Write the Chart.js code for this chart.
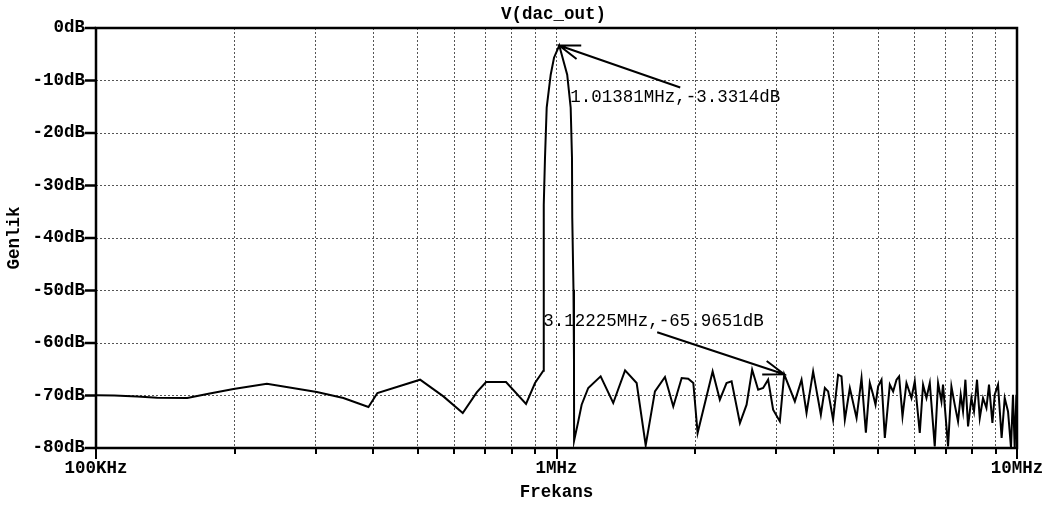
<!DOCTYPE html>
<html>
<head>
<meta charset="utf-8">
<script src="https://cdn.jsdelivr.net/npm/chart.js@4/dist/chart.umd.min.js"></script>
<style>
  html, body { margin: 0; padding: 0; background: #fff; }
  canvas { display: block; }
</style>
</head>
<body>
<canvas id="spectrum" width="1047" height="507"></canvas>
<script>
// Spectrum of V(dac_out): frequency (kHz) and magnitude (dB)
const freqKHz = [
  100, 109.6, 122.9, 135.8, 157.8, 175.5, 198.9, 235.0, 301.7, 344.5, 390.5,
  408.4, 505.6, 568.0, 625.8, 671.1, 703.1, 777.0, 858.7, 898.1, 936.3,
  938.1, 938.5, 944.1, 952.1, 971.4, 987.6, 1013.81,
  1055, 1073.5, 1080.5, 1082, 1088.6, 1091.4, 1092,
  1115, 1134, 1172, 1247, 1328, 1409, 1493, 1562, 1636, 1720, 1793, 1870, 1932, 1982, 2025, 2183,
  2263, 2340, 2400, 2502, 2587, 2660, 2741, 2810, 2881, 2954, 3055, 3122.25,
  3293, 3405, 3491, 3608, 3750, 3826, 3889, 3987, 4088, 4158, 4228, 4335, 4483, 4596,
  4697, 4790, 4870, 4929, 4994, 5079, 5164, 5294, 5383, 5475, 5546, 5641, 5754,
  5900, 5998, 6150, 6252, 6359, 6466, 6628, 6739, 6854, 6908, 7084, 7204, 7324,
  7447, 7547, 7635, 7726, 7829, 7961, 8066, 8188, 8301, 8437, 8582, 8694,
  8843, 8946, 9095, 9260, 9404, 9561, 9704, 9801, 9885, 9970, 10000
];
const levelDb = [
  -69.94, -69.98, -70.17, -70.42, -70.48, -69.66, -68.76, -67.75, -69.33, -70.48, -72.19,
  -69.52, -66.99, -70.17, -73.33, -69.41, -67.43, -67.43, -71.62, -67.62, -65.28,
  -51.75, -33.66, -24.70, -15.18, -8.90, -5.66, -3.3314,
  -8.90, -15.18, -24.70, -36.13, -49.85, -63.18, -78.61,
  -74.93, -71.75, -68.57, -66.36, -71.43, -65.22, -67.62, -79.50, -69.22, -66.48, -72.08, -66.67, -66.80, -67.62, -77.14, -65.41,
  -70.80, -67.62, -67.31, -75.24, -71.75, -65.09, -68.90, -68.57, -66.99, -72.70, -74.93, -65.9651,
  -71.12, -66.99, -73.33, -65.41, -73.66, -68.57, -69.22, -74.61, -66.04, -66.36, -74.61, -68.57, -74.29, -66.67,
  -77.09, -67.62, -69.85, -71.75, -68.27, -66.99, -78.10, -67.94, -69.22, -66.99, -66.36, -73.98, -67.62,
  -70.48, -67.31, -77.14, -67.94, -70.48, -67.62, -79.70, -67.62, -71.12, -67.94, -79.70, -68.27, -71.75,
  -74.93, -69.85, -73.03, -66.99, -75.89, -70.48, -73.03, -66.99, -74.29, -70.48, -72.38, -67.94,
  -75.24, -69.85, -67.94, -78.10, -70.48, -73.03, -79.94, -69.85, -79.94, -69.85, -71.0
];

// Cursor readouts
const markerFreqKHz = [1013.81, 3122.25];
const markerDb = [-3.3314, -65.9651];

// Axes
const yTickValues = [0, -10, -20, -30, -40, -50, -60, -70, -80];
const xDecades = [1e5, 1e6, 1e7];
const xDecadeLabels = ['100KHz', '1MHz', '10MHz'];

const chartTitle = 'V(dac_out)';
const xTitle = 'Frekans';
const yTitle = 'Genlik';

const FONT = '"Liberation Mono", "DejaVu Sans Mono", monospace';
const FONT_SIZE = 17.5;

// 1..9 per decade for the log grid
const xTickValues = [];
for (let d = 0; d < xDecades.length - 1; d++) {
  for (let m = 1; m < 10; m++) xTickValues.push(xDecades[d] * m);
}
xTickValues.push(xDecades[xDecades.length - 1]);

// Cursor arrow / label placement (pixel offsets from the marked point)
const markerLayout = [
  { tail: [121, 42], text: [11, 52] },
  { tail: [-127, -42], text: [-241, -53] }
];

const framePlugin = {
  id: 'frameAndMarkers',
  afterDatasetsDraw(chart) {
    const { ctx, chartArea: a, scales: { x, y } } = chart;
    ctx.save();
    ctx.strokeStyle = '#000';
    ctx.lineCap = 'butt';

    // plot frame
    ctx.lineWidth = 2.5;
    ctx.strokeRect(a.left, a.top, a.right - a.left, a.bottom - a.top);

    // tick marks
    ctx.beginPath();
    yTickValues.forEach(v => {
      const py = y.getPixelForValue(v);
      ctx.moveTo(a.left - 11, py);
      ctx.lineTo(a.left, py);
    });
    ctx.stroke();
    ctx.lineWidth = 2;
    ctx.beginPath();
    xTickValues.forEach(v => {
      const px = Math.round(x.getPixelForValue(v));
      const len = xDecades.includes(v) ? 11 : 6;
      ctx.moveTo(px, a.bottom);
      ctx.lineTo(px, a.bottom + len);
    });
    ctx.stroke();

    // title
    ctx.fillStyle = '#000';
    ctx.font = 'bold ' + FONT_SIZE + 'px ' + FONT;
    ctx.textAlign = 'center';
    ctx.textBaseline = 'middle';
    ctx.fillText(chartTitle, (a.left + a.right) / 2 - 3, 15);

    // cursor readouts with arrows
    ctx.font = FONT_SIZE + 'px ' + FONT;
    ctx.textAlign = 'left';
    ctx.lineWidth = 2;
    markerFreqKHz.forEach((f, i) => {
      const tx = x.getPixelForValue(f * 1000);
      const ty = y.getPixelForValue(markerDb[i]);
      const lay = markerLayout[i];
      const ex = tx + lay.tail[0], ey = ty + lay.tail[1];
      const ang = Math.atan2(ey - ty, ex - tx);
      const wing = 22, spread = 0.33;
      ctx.beginPath();
      ctx.moveTo(ex, ey);
      ctx.lineTo(tx, ty);
      ctx.moveTo(tx + wing * Math.cos(ang - spread), ty + wing * Math.sin(ang - spread));
      ctx.lineTo(tx, ty);
      ctx.lineTo(tx + wing * Math.cos(ang + spread), ty + wing * Math.sin(ang + spread));
      ctx.stroke();
      const label = (f / 1000).toFixed(5) + 'MHz,' + markerDb[i].toFixed(4) + 'dB';
      ctx.fillText(label, tx + lay.text[0], ty + lay.text[1]);
    });
    ctx.restore();
  }
};

const points = freqKHz.map((f, i) => ({ x: f * 1000, y: levelDb[i] }));

new Chart(document.getElementById('spectrum'), {
  type: 'line',
  data: {
    datasets: [{
      data: points,
      borderColor: '#000',
      borderWidth: 2,
      pointRadius: 0,
      tension: 0,
      fill: false
    }]
  },
  options: {
    responsive: false,
    animation: false,
    devicePixelRatio: 1,
    layout: { padding: { top: 28, right: 30, bottom: 0, left: 0 } },
    plugins: {
      legend: { display: false },
      tooltip: { enabled: false },
      title: { display: false }
    },
    scales: {
      x: {
        type: 'logarithmic',
        min: xDecades[0],
        max: xDecades[xDecades.length - 1],
        afterBuildTicks: s => { s.ticks = xTickValues.map(v => ({ value: v })); },
        afterFit: s => { s.height = 59; s.paddingLeft = 0; s.paddingRight = 0; },
        grid: { color: '#555', lineWidth: 1, drawTicks: false },
        border: { display: false, dash: [2, 2] },
        ticks: {
          autoSkip: false,
          maxRotation: 0,
          minRotation: 0,
          padding: 10,
          color: '#000',
          font: { family: FONT, size: FONT_SIZE, weight: 'bold' },
          callback: v => {
            const i = xDecades.indexOf(v);
            return i >= 0 ? xDecadeLabels[i] : '';
          }
        },
        title: {
          display: true,
          text: xTitle,
          color: '#000',
          font: { family: FONT, size: FONT_SIZE, weight: 'bold' },
          padding: { top: 0, bottom: 3.5 }
        }
      },
      y: {
        type: 'linear',
        min: -80,
        max: 0,
        afterBuildTicks: s => { s.ticks = yTickValues.map(v => ({ value: v })); },
        afterFit: s => { s.width = 96; s.paddingTop = 0; s.paddingBottom = 0; },
        grid: { color: '#555', lineWidth: 1, drawTicks: false },
        border: { display: false, dash: [2, 2] },
        ticks: {
          padding: 11,
          color: '#000',
          font: { family: FONT, size: FONT_SIZE, weight: 'bold' },
          callback: v => v + 'dB'
        },
        title: {
          display: true,
          text: yTitle,
          color: '#000',
          font: { family: FONT, size: FONT_SIZE, weight: 'bold' },
          padding: { top: 4, bottom: 0 }
        }
      }
    }
  },
  plugins: [framePlugin]
});
</script>
</body>
</html>
